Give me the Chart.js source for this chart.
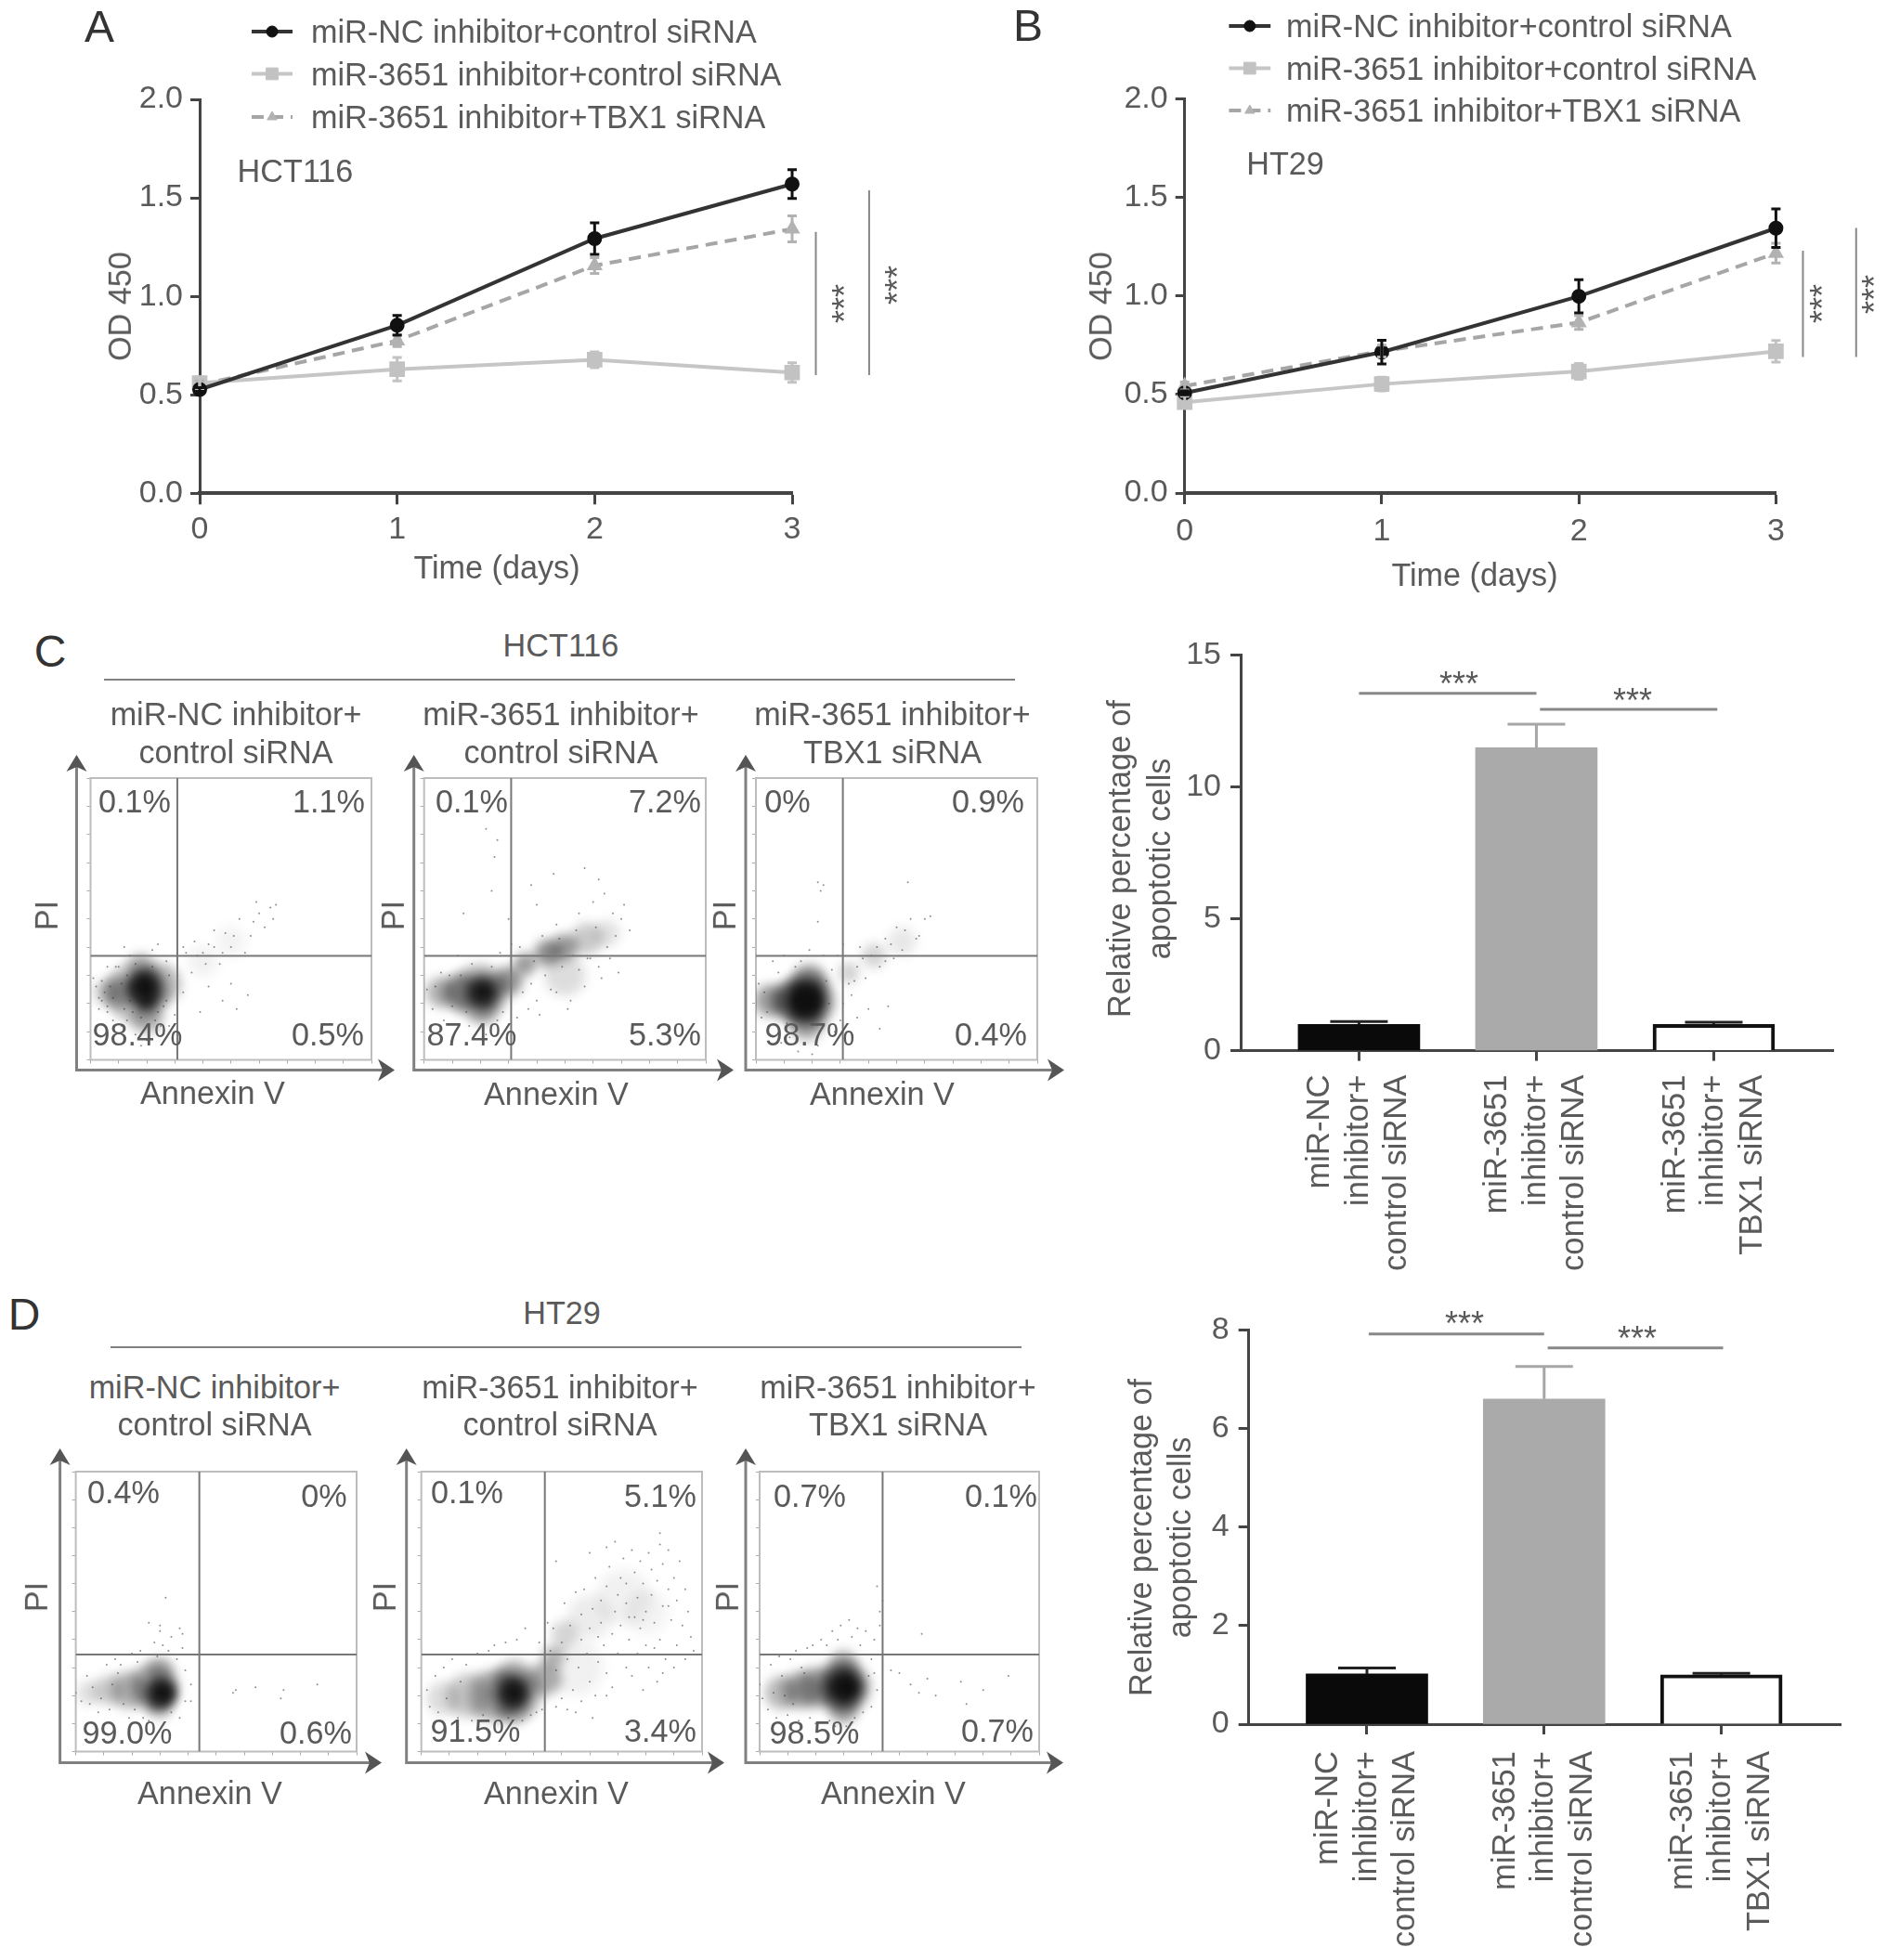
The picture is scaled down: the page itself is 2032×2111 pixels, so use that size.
<!DOCTYPE html>
<html><head><meta charset="utf-8">
<script src="https://cdn.jsdelivr.net/npm/chart.js@4/dist/chart.umd.js"></script>
<style>
html,body{margin:0;padding:0;background:#fff;}
#page{position:relative;width:2032px;height:2111px;overflow:hidden;background:#fff;}
canvas{position:absolute;}
.t{position:absolute;white-space:nowrap;color:#5a5a5a;font-family:"Liberation Sans",Arial,sans-serif;font-size:34.2px;line-height:1;transform:translate(-50%,-50%);}
.l{transform:translate(0,-50%);}
.r{transform:translate(-50%,-50%) rotate(-90deg);}
</style></head><body><div id="page"></div>
<script>
// ---------- line panels ----------
const days=[0,1,2,3];
const seriesNames=['miR-NC inhibitor+control siRNA','miR-3651 inhibitor+control siRNA','miR-3651 inhibitor+TBX1 siRNA'];
const a_nc=[0.527,0.853,1.293,1.57],   a_nc_err=[0.01,0.05,0.08,0.073];
const a_ctl=[0.56,0.63,0.678,0.613],   a_ctl_err=[0.03,0.06,0.04,0.05];
const a_tbx=[0.55,0.775,1.156,1.342],  a_tbx_err=[0.02,0.03,0.04,0.066];
const b_nc=[0.508,0.715,0.998,1.344],  b_nc_err=[0.01,0.06,0.084,0.098];
const b_ctl=[0.461,0.553,0.617,0.719], b_ctl_err=[0.03,0.035,0.04,0.055];
const b_tbx=[0.543,0.72,0.865,1.217],  b_tbx_err=[0.02,0.03,0.035,0.05];
const a_sig1=[[3.12,1.327],[3.12,0.60]], a_sig2=[[3.39,1.538],[3.39,0.60]];
const b_sig1=[[3.137,1.230],[3.137,0.69]], b_sig2=[[3.407,1.345],[3.407,0.69]];
const lineYTicks=[0,0.5,1,1.5,2];
// ---------- bar panels ----------
const groups=[['miR-NC','inhibitor+','control siRNA'],['miR-3651','inhibitor+','control siRNA'],['miR-3651','inhibitor+','TBX1 siRNA']];
const c_vals=[1.0,11.49,1.0], c_err=[0.1,0.9,0.08];
const d_vals=[1.02,6.6,1.0],  d_err=[0.12,0.66,0.03];
const c_sig1=[[0,13.56],[1,13.56]], c_sig2=[[1.02,12.95],[2.02,12.95]];
const d_sig1=[[0.01,7.92],[1,7.92]], d_sig2=[[1.02,7.64],[2.01,7.64]];
// ---------- flow panels: dots [x,y,...], density blobs [x,y,radius,density], in % of the plot box ----------
const gateC=[30.9,36.9], gateD=[44,34.7];
const blobC1=[[6,24,14,.25],[11,24,18,.3],[17,24,34,.25],[25,27,22,.28],[18,33,14,.3],[20,15,17,.3],[19,25,20,.6],[19,26,14,.95],[20,21,10,.8],[40,35,16,.06],[50,42,16,.05]];
const dotsC1=[2,26,9,33,4,21,14,37,6,17,22,39,8,14,27,35,12,40,11,12,25,12,16,9,20,7,18,5,31,30,33,24,30,16,28,12,6,33,3,18,1,29,24,41,8,22,13,30,6,19,15,17,11,27,3,22,24,17,27,21,14,21,22,33,16,34,5,24,12,18,28,30,26,19,7,26,18,15,10,33,4,28,13,14,23,14,37,42,41,34,44,46,47,38,38,37,50,40,53,50,46,34,57,44,60,52,55,38,62,47,65,50,59,56,66,55,42,41,34,38,36,31,48,45,40,38,33,40,51,44,44,40,64,54,58,49,52,18,47,21,56,23,42,26,39,17,50,27];
const blobC2=[[6,24,16,.32],[13,24,20,.4],[20,24,30,.3],[21,17,14,.25],[21,24,19,.6],[21,24,12,.95],[30,28,15,.45],[36,34,12,.42],[44,38,14,.48],[50,40,14,.42],[58,43,17,.22],[50,30,22,.14],[65,45,14,.12]];
const dotsC2=[1,25,6,31,3,18,12,37,7,14,16,12,22,9,27,38,26,14,31,41,33,15,37,18,38,27,40,21,42,44,45,25,47,48,49,33,52,21,53,37,55,52,57,26,58,36,60,56,61,47,62,33,64,59,65,40,67,52,68,44,70,50,66,36,71,55,73,46,63,29,69,31,24,60,25,72,38,62,40,55,22,82,26,78,46,66,57,68,62,64,14,52,30,50,24,33,9,30,15,17,28,17,13,30,35,24,43,30,47,24,55,32,41,16,51,18,10,19,4,26,17,34,59,36,54,46,34,40,39,35,48,43];
const blobC3=[[5,21,17,.4],[12,21,20,.45],[18,13,18,.35],[19,28,18,.4],[18,21,30,.45],[18,21,20,.85],[18,21,15,1],[33,31,11,.2],[42,37,13,.18],[52,42,15,.1]];
const dotsC3=[1,27,6,35,2,15,5,9,12,8,15,3,10,37,19,39,24,37,31,20,28,10,22,5,27,32,33,27,36,33,29,37,38,36,31,41,41,37,35,28,43,40,37,40,46,43,44,33,48,41,50,47,52,39,53,46,55,50,57,43,60,50,62,51,58,44,49,36,36,15,40,18,44,11,47,19,22,63,24,62,23,60,22,49,54,63,8,31,14,33,4,17,11,13,26,20,25,28,3,24,16,35,9,6,20,2,30,14,39,29,34,23,46,35];
const blobD1=[[5,21,13,.14],[12,22,16,.2],[19,22,20,.3],[28,23,26,.35],[30,29,14,.3],[30,16,13,.25],[30,21,17,.7],[31,21,11,1]];
const dotsD1=[0,21,4,27,2,18,8,14,6,23,11,31,9,19,14,33,13,24,17,17,19,12,22,32,24,12,20,35,28,39,26,11,31,38,30,43,34,14,33,36,37,12,38,37,39,18,39,29,41,24,26,46,30,45,37,44,38,42,32,55,57,22,56,21,64,23,74,22,86,24,73,19,15,28,12,15,5,17,23,36,36,33,34,41,41,18,29,34,21,15,16,31];
const blobD2=[[8,19,18,.15],[17,20,24,.22],[26,20,28,.3],[33,21,30,.3],[33,27,18,.2],[33,15,16,.2],[33,21,19,.6],[33,21,12,.95],[44,26,18,.34],[47,34,12,.28],[51,42,14,.18],[60,48,24,.08],[72,55,30,.06],[80,50,24,.05],[55,30,30,.06]];
const dotsD2=[2,22,5,27,3,16,8,30,6,14,14,25,11,33,9,19,13,12,18,11,16,31,24,36,20,35,22,13,30,39,26,38,28,11,36,11,34,40,37,44,31,12,42,39,45,46,39,13,41,14,46,36,48,16,47,44,43,15,50,39,51,53,52,15,50,19,54,22,53,45,55,57,52,33,57,49,57,18,56,30,60,44,58,58,59,35,60,25,62,62,61,51,62,20,66,28,64,46,63,32,64,54,65,38,68,23,67,66,66,59,69,50,68,42,70,35,71,62,70,56,74,40,72,69,71,45,75,27,73,30,73,53,76,64,75,72,77,35,78,44,76,48,77,55,78,68,80,38,79,22,79,60,81,71,80,50,84,25,81,30,82,56,83,46,82,65,85,74,84,61,86,52,85,40,86,67,88,58,87,33,89,47,88,72,91,38,90,62,92,68,91,54,93,45,95,50,94,58,96,41,97,36,48,68,60,71,85,78,73,60,66,73,90,30,86,28,94,33,69,75,79,47,63,41,74,48,83,37,88,52,57,40,48,29,55,14,61,12,66,20];
const blobD3=[[8,21,18,.3],[15,22,20,.35],[21,23,22,.35],[30,23,28,.5],[30,31,15,.35],[30,15,15,.35],[30,23,18,.8],[31,23,13,1]];
const dotsD3=[0,24,4,31,1,19,3,15,7,34,6,12,11,33,10,13,13,36,15,30,14,11,19,38,17,37,18,12,24,38,20,10,22,40,25,11,27,9,26,43,28,40,31,9,29,45,34,12,33,41,32,47,37,14,36,38,35,44,40,16,38,43,41,28,41,40,42,22,43,45,44,54,43,50,42,59,58,42,47,29,50,28,54,24,57,21,60,26,72,25,63,20,80,22,89,27,74,17,8,27,12,17,16,28,5,21,9,20,40,33,39,27];
// ---------- texts: [text, x, y] ----------
const panelLetters=[['A',107,29],['B',1107,28],['C',54,702],['D',26,1416]];
const lineLabels=[['HCT116',318,184],['HT29',1384,176],['Time (days)',535,611],['Time (days)',1588,619]];
const rotLabels=[['OD 450',129,330],['OD 450',1185,330],['Relative percentage of',1205,925],['apoptotic cells',1248,925],['Relative percentage of',1228,1656],['apoptotic cells',1270,1656]];
const flowRot=[['PI',50,986],['PI',423,986],['PI',780,986],['PI',39,1720],['PI',414,1720],['PI',783,1720]];
const flowLabelsC=[['HCT116',604,695],['miR-NC inhibitor+',254,769],['control siRNA',254,810],['miR-3651 inhibitor+',604,769],['control siRNA',604,810],['miR-3651 inhibitor+',961,769],['TBX1 siRNA',961,810],
 ['Annexin V',229,1177],['Annexin V',599,1178],['Annexin V',950,1178],
 ['0.1%',145,863],['1.1%',354,863],['98.4%',148,1114],['0.5%',353,1114],['0.1%',508,863],['7.2%',716,863],['87.4%',508,1114],['5.3%',716,1114],['0%',848,863],['0.9%',1064,863],['98.7%',872,1114],['0.4%',1067,1114]];
const flowLabelsD=[['HT29',605,1414],['miR-NC inhibitor+',231,1494],['control siRNA',231,1534],['miR-3651 inhibitor+',603,1494],['control siRNA',603,1534],['miR-3651 inhibitor+',967,1494],['TBX1 siRNA',967,1534],
 ['Annexin V',226,1931],['Annexin V',599,1931],['Annexin V',962,1931],
 ['0.4%',133,1607],['0%',349,1611],['99.0%',137,1866],['0.6%',340,1866],['0.1%',503,1607],['5.1%',711,1611],['91.5%',512,1864],['3.4%',711,1864],['0.7%',872,1611],['0.1%',1078,1611],['98.5%',877,1866],['0.7%',1074,1864]];
const starLabels=[['***',1571,737],['***',1758,755],['***',1577,1426],['***',1763,1442]];
const starRot=[['***',910,327],['***',967,307],['***',1963,327],['***',2019,317]];

const page=document.getElementById('page');
const FONT='"Liberation Sans",Arial,sans-serif', TICK='#5a5a5a', AX='#444';
function addText(t,x,y,cls,size,col){const d=document.createElement('div');d.className='t '+(cls||'');d.textContent=t;d.style.left=x+'px';d.style.top=y+'px';if(size)d.style.fontSize=size+'px';if(col)d.style.color=col;page.appendChild(d);}
function addCanvas(b){const c=document.createElement('canvas');c.width=b.w;c.height=b.h;c.style.left=b.l+'px';c.style.top=b.t+'px';c.style.width=b.w+'px';c.style.height=b.h+'px';page.appendChild(c);return c;}
function pad(b,a){return {left:0,right:b.l+b.w-a.x1,top:a.y1-b.t,bottom:0};}
const xy=(xs,ys)=>xs.map((x,i)=>({x,y:ys[i]}));
const pts=p=>p.map(q=>({x:q[0],y:q[1]}));
const errorBars={id:'errorBars',afterDatasetsDraw(ch){const g=ch.ctx;
  [...ch.data.datasets].reverse().forEach(ds=>{if(!ds.errors)return;const sx=ch.scales.x,sy=ch.scales.y;g.save();g.strokeStyle=ds.errColor;g.lineWidth=ds.errWidth;
   ds.data.forEach((p,i)=>{const x=sx.getPixelForValue(p.x),hi=sy.getPixelForValue(p.y+ds.errors[i]),lo=sy.getPixelForValue(ds.upOnly?p.y:p.y-ds.errors[i]),c=ds.capHalf;
    g.beginPath();g.moveTo(x,lo);g.lineTo(x,hi);g.moveTo(x-c,hi);g.lineTo(x+c,hi);if(!ds.upOnly){g.moveTo(x-c,lo);g.lineTo(x+c,lo);}g.stroke();});g.restore();});}};
const keyLegend={id:'keyLegend',afterDraw(ch,_,o){if(!o.x1)return;const g=ch.ctx;
  ch.data.datasets.filter(d=>d.key).forEach((d,i)=>{const y=o.ys[i];g.save();g.strokeStyle=d.borderColor;g.lineWidth=d.borderWidth;g.setLineDash(d.borderDash||[]);g.beginPath();g.moveTo(o.x1,y);g.lineTo(o.x2,y);g.stroke();g.setLineDash([]);
   g.fillStyle=d.pointBackgroundColor;g.strokeStyle=d.pointBackgroundColor;g.lineWidth=1;Chart.helpers.drawPoint(g,{pointStyle:d.pointStyle,radius:d.pointRadius,borderWidth:1},(o.x1+o.x2)/2,y);g.restore();});}};

function lineChart(b,a,nc,ncE,ctl,ctlE,tbx,tbxE,s1,s2,leg,tickPad){
  const c=addCanvas(b);
  const mk=(i,v,e,col,pc,st,r,dash,w)=>({type:'line',key:true,label:seriesNames[i],data:xy(days,v),errors:e,errColor:pc,errWidth:3,capHalf:5,borderColor:col,borderWidth:w,borderDash:dash,pointBackgroundColor:pc,pointBorderColor:pc,pointStyle:st,pointRadius:r,tension:0,clip:false});
  const sig=p=>({type:'line',data:pts(p),borderColor:'#888',borderWidth:2,pointRadius:0,clip:false});
  new Chart(c,{type:'line',data:{datasets:[
    mk(0,nc,ncE,'#333','#111','circle',6,[],4),
    mk(1,ctl,ctlE,'#c6c6c6','#c2c2c2','rect',9,[],4),
    mk(2,tbx,tbxE,'#a6a6a6','#b2b2b2','triangle',6,[13,8],4),
    sig(s1),sig(s2)]},
   options:{responsive:false,animation:false,devicePixelRatio:1,layout:{padding:pad(b,a)},
    plugins:{legend:{display:false},tooltip:{enabled:false},keyLegend:leg},
    scales:{x:{type:'linear',min:0,max:3,offset:false,afterFit:s=>{s.height=b.t+b.h-a.y0},afterBuildTicks:s=>{s.ticks=days.map(v=>({value:v}))},
       border:{color:AX,width:4},grid:{drawOnChartArea:false,color:AX,tickLength:12,tickWidth:3,offset:false},ticks:{color:TICK,padding:tickPad,font:{family:FONT,size:34},callback:v=>String(v)}},
     y:{min:0,max:2,afterFit:s=>{s.width=a.x0-b.l},afterBuildTicks:s=>{s.ticks=lineYTicks.map(v=>({value:v}))},
       border:{color:AX,width:3},grid:{drawOnChartArea:false,color:AX,tickLength:10,tickWidth:3},ticks:{color:TICK,padding:8,font:{family:FONT,size:34},callback:v=>v.toFixed(1)}}}},
   plugins:[errorBars,keyLegend]});
}
function barChart(b,a,xmin,xmax,vals,err,yMax,yTicks,s1,s2,tickPad){
  const c=addCanvas(b);
  const sig=p=>({type:'line',data:pts(p),borderColor:'#888',borderWidth:3,pointRadius:0,clip:false});
  const idx=groups.map((_,i)=>i);
  const bar=(i,fill,bc,bw,ec)=>({type:'bar',data:[{x:i,y:vals[i]}],errors:[err[i]],upOnly:true,errColor:ec,errWidth:3,capHalf:31,backgroundColor:fill,borderColor:bc,borderWidth:bw,barThickness:131,grouped:false});
  new Chart(c,{type:'bar',data:{datasets:[sig(s1),sig(s2),
     bar(0,'#0a0a0a','#0a0a0a',0,'#222'),bar(1,'#aaaaaa','#aaaaaa',0,'#a6a6a6'),bar(2,'#ffffff','#111',4,'#222')]},
   options:{responsive:false,animation:false,devicePixelRatio:1,layout:{padding:pad(b,a)},
    plugins:{legend:{display:false},tooltip:{enabled:false}},
    scales:{x:{type:'linear',min:xmin,max:xmax,offset:false,afterFit:s=>{s.height=b.t+b.h-a.y0},afterBuildTicks:s=>{s.ticks=idx.map(v=>({value:v}))},
       border:{color:AX,width:3},grid:{drawOnChartArea:false,color:AX,tickLength:11,tickWidth:3,offset:false},
       ticks:{color:TICK,padding:tickPad,labelOffset:-41.5,autoSkip:false,minRotation:90,maxRotation:90,font:{family:FONT,size:34.6,lineHeight:41.5/34.6},callback:v=>groups[v]}},
     y:{min:0,max:yMax,afterFit:s=>{s.width=a.x0-b.l},afterBuildTicks:s=>{s.ticks=yTicks.map(v=>({value:v}))},
       border:{color:AX,width:3},grid:{drawOnChartArea:false,color:AX,tickLength:11,tickWidth:3},ticks:{color:TICK,padding:10,font:{family:FONT,size:34}}}}},
   plugins:[errorBars]});
}
const flowFrame={id:'flowFrame',beforeDatasetsDraw(ch,_,o){const g=ch.ctx,A=ch.chartArea;g.save();g.strokeStyle='#bdbdbd';g.lineWidth=2;g.strokeRect(A.left,A.top,A.right-A.left,A.bottom-A.top);g.restore();},
  afterDraw(ch,_,o){const g=ch.ctx,A=ch.chartArea,ox=A.left-o.dl,oy=A.bottom+o.db,ex=A.right+o.dr,ey=A.top-25;g.save();g.strokeStyle='#808080';g.fillStyle='#555';g.lineWidth=3;
    g.beginPath();g.moveTo(ox,ey+12);g.lineTo(ox,oy);g.lineTo(ex-12,oy);g.stroke();
    g.beginPath();g.moveTo(ox-11,ey+18);g.lineTo(ox,ey);g.lineTo(ox+11,ey+18);g.lineTo(ox,ey+13);g.closePath();g.fill();
    g.beginPath();g.moveTo(ex-18,oy-12);g.lineTo(ex,oy);g.lineTo(ex-18,oy+12);g.lineTo(ex-13,oy);g.closePath();g.fill();g.restore();},
  beforeDatasetDraw(ch,a){if(ch.data.datasets[a.index].soft){ch.ctx.save();ch.ctx.filter='blur(6px)';}},
  afterDatasetDraw(ch,a){if(ch.data.datasets[a.index].soft){ch.ctx.restore();}}};
function flowChart(a,gate,blobs,dots,dl,db,dr){
  // the canvas is larger than the plot so bubble overflow cannot shrink the chart area
  const M=60,b={l:Math.floor(a.x0)-M,t:Math.floor(a.y1)-M,w:Math.ceil(a.x1-a.x0)+2*M,h:Math.ceil(a.y0-a.y1)+2*M};
  const c=addCanvas(b);
  const dotData=[];for(let i=0;i<dots.length;i+=2)dotData.push({x:dots[i],y:dots[i+1]});
  const blobSets=blobs.map(p=>({type:'bubble',soft:true,data:[{x:p[0],y:p[1],r:p[2]}],backgroundColor:'rgba(15,15,15,'+p[3]+')',borderWidth:0}));
  const gl=p=>({type:'line',data:pts(p),borderColor:'#777',borderWidth:2,pointRadius:0});
  new Chart(c,{type:'scatter',data:{datasets:[gl([[gate[0],0],[gate[0],100]]),gl([[0,gate[1]],[100,gate[1]]]),
     {type:'scatter',data:dotData,pointRadius:1,pointBackgroundColor:'rgba(50,50,50,.55)',pointBorderWidth:0},...blobSets]},
   options:{responsive:false,animation:false,devicePixelRatio:1,layout:{padding:pad(b,a)},
    plugins:{legend:{display:false},tooltip:{enabled:false},flowFrame:{dl,db,dr}},
    scales:{x:{type:'linear',min:0,max:100,afterFit:s=>{s.height=b.t+b.h-a.y0},border:{display:false},grid:{drawOnChartArea:false,color:'#aaa',tickLength:4},ticks:{display:false,stepSize:10}},
      y:{min:0,max:100,afterFit:s=>{s.width=a.x0-b.l},border:{display:false},grid:{drawOnChartArea:false,color:'#aaa',tickLength:4},ticks:{display:false,stepSize:10}}}},
   plugins:[flowFrame]});
}
lineChart({l:0,t:0,w:1016,h:650},{x0:215,x1:853,y0:531.3,y1:107},a_nc,a_nc_err,a_ctl,a_ctl_err,a_tbx,a_tbx_err,a_sig1,a_sig2,{x1:271,x2:315,ys:[34,79.5,126]},7);
lineChart({l:1016,t:0,w:1016,h:650},{x0:1275.7,x1:1912.4,y0:531,y1:106.5},b_nc,b_nc_err,b_ctl,b_ctl_err,b_tbx,b_tbx_err,b_sig1,b_sig2,{x1:307.4,x2:352.2,ys:[28,73.5,119]},9);
barChart({l:1160,t:670,w:872,h:720},{x0:1336,x1:1974.8,y0:1131.6,y1:705.8},-0.667,2.677,c_vals,c_err,15,[0,5,10,15],c_sig1,c_sig2,15);
barChart({l:1160,t:1400,w:872,h:711},{x0:1344.7,x1:1982.8,y0:1857,y1:1432.6},-0.667,2.677,d_vals,d_err,8,[0,2,4,6,8],d_sig1,d_sig2,18);
const CY={y0:1141.5,y1:838}, DY={y0:1886.5,y1:1585};
flowChart({x0:97.5,x1:400,...CY},gateC,blobC1,dotsC1,15,11,25);
flowChart({x0:456.7,x1:760,...CY},gateC,blobC2,dotsC2,11,11,30);
flowChart({x0:814,x1:1117,...CY},gateC,blobC3,dotsC3,11,11,29);
flowChart({x0:81.6,x1:384,...DY},gateD,blobD1,dotsD1,17,12,27);
flowChart({x0:453.7,x1:756,...DY},gateD,blobD2,dotsD2,16,12,24);
flowChart({x0:818,x1:1119,...DY},gateD,blobD3,dotsD3,15,12,26);
// section rules above the flow panels
[[112.4,1093,731.6],[119.4,1100,1450.7]].forEach(r=>{const d=document.createElement('div');d.style.cssText='position:absolute;background:#808080;height:2px;left:'+r[0]+'px;top:'+(r[2]-1)+'px;width:'+(r[1]-r[0])+'px';page.appendChild(d);});
panelLetters.forEach(p=>addText(p[0],p[1],p[2],'',48,'#333'));
lineLabels.forEach(p=>addText(p[0],p[1],p[2]));
rotLabels.forEach(p=>addText(p[0],p[1],p[2],'r'));
flowRot.forEach(p=>addText(p[0],p[1],p[2],'r'));
flowLabelsC.forEach(p=>addText(p[0],p[1],p[2]));
flowLabelsD.forEach(p=>addText(p[0],p[1],p[2]));
starLabels.forEach(p=>addText(p[0],p[1],p[2],'',36));
starRot.forEach(p=>addText(p[0],p[1],p[2],'r',36));
seriesNames.forEach((n,i)=>{addText(n,335,[34,79.5,126][i],'l');addText(n,1385,[28,73.5,119][i],'l');});
</script></body></html>
